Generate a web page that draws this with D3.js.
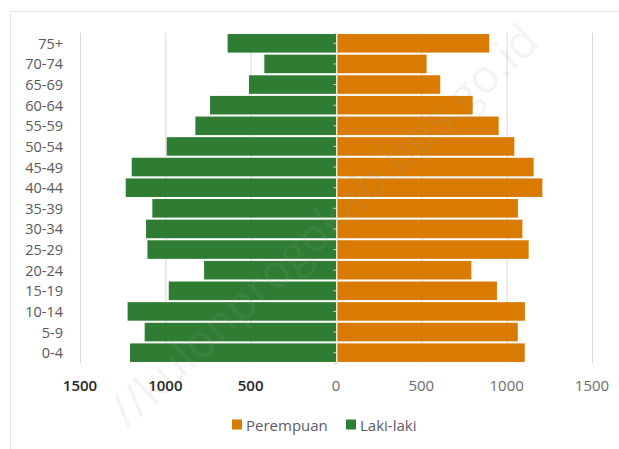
<!DOCTYPE html>
<html>
<head>
<meta charset="utf-8">
<script src="https://cdn.jsdelivr.net/npm/d3@7"></script>
<style>
  body { margin: 0; background: #fff; }
  svg { display: block; font-family: 'Open Sans', sans-serif; }
</style>
</head>
<body>
<div id="chart"></div>
<script>
// age groups, top to bottom
const ageGroups = ['75+', '70-74', '65-69', '60-64', '55-59', '50-54', '45-49', '40-44',
  '35-39', '30-34', '25-29', '20-24', '15-19', '10-14', '5-9', '0-4'];
const lakiLaki = [635, 420, 510, 738, 824, 992, 1197, 1232, 1076, 1113, 1105, 773, 980, 1221, 1121, 1207];
const perempuan = [898, 531, 611, 801, 953, 1045, 1158, 1209, 1066, 1092, 1129, 793, 943, 1107, 1065, 1106];
const tickValues = [-1500, -1000, -500, 0, 500, 1000, 1500];

const width = 619;
const height = 449;
const green = '#2e7d32';
const orange = '#d97b00';

const svg = d3.select('#chart')
  .append('svg')
    .attr('width', width)
    .attr('height', height);

// frame edges
svg.append('path')
  .attr('d', 'M10.5,449 V11.5 H619')
  .attr('fill', 'none')
  .attr('stroke', '#e3e3e3');

const x = d3.scaleLinear().domain([-1500, 1500]).range([80, 592]);
const y = d3.scaleBand().domain(ageGroups).range([33, 363]).paddingInner(0.1).paddingOuter(0.05);

// gridlines
svg.append('g')
  .selectAll('line')
  .data(tickValues.filter(d => d !== 0))
  .enter()
  .append('line')
    .attr('x1', d => x(d) + 0.5)
    .attr('x2', d => x(d) + 0.5)
    .attr('y1', 33)
    .attr('y2', 363)
    .attr('stroke', '#d9d9d9');

// bars
svg.append('g')
  .selectAll('rect')
  .data(ageGroups.map((g, i) => ({ g, v: lakiLaki[i] })))
  .enter()
  .append('rect')
    .attr('x', d => x(-d.v))
    .attr('width', d => x(0) - x(-d.v))
    .attr('y', d => y(d.g))
    .attr('height', y.bandwidth())
    .attr('fill', green);

svg.append('g')
  .selectAll('rect')
  .data(ageGroups.map((g, i) => ({ g, v: perempuan[i] })))
  .enter()
  .append('rect')
    .attr('x', x(0) + 1)
    .attr('width', d => x(d.v) - x(0) - 1)
    .attr('y', d => y(d.g))
    .attr('height', y.bandwidth())
    .attr('fill', orange);

// axis at zero with small ticks
const yAxis = svg.append('g')
  .attr('transform', `translate(${x(0) + 0.5},0)`)
  .call(d3.axisLeft(y).tickSize(3).tickFormat(''));
yAxis.select('.domain').attr('stroke', '#e8d9a8');
yAxis.selectAll('.tick line').attr('stroke', '#d9d9d9');

// category labels
svg.append('g')
  .selectAll('text')
  .data(ageGroups)
  .enter()
  .append('text')
    .attr('x', 63)
    .attr('y', d => y(d) + y.bandwidth() / 2 + 5.5)
    .attr('text-anchor', 'end')
    .attr('font-size', '14.5px')
    .attr('fill', '#595959')
    .text(d => d);

// x tick labels (absolute values)
svg.append('g')
  .selectAll('text')
  .data(tickValues)
  .enter()
  .append('text')
    .attr('x', d => x(d))
    .attr('y', 390.5)
    .attr('text-anchor', 'middle')
    .attr('font-size', '15px')
    .attr('font-weight', d => d < 0 ? 600 : 400)
    .attr('fill', d => d < 0 ? '#262626' : '#6b6b6b')
    .text(d => Math.abs(d));

// legend
const legendItems = [{ name: 'Perempuan', color: orange, x: 232 }, { name: 'Laki-laki', color: green, x: 346 }];
const legend = svg.append('g')
  .selectAll('g')
  .data(legendItems)
  .enter()
  .append('g');
legend.append('rect')
  .attr('x', d => d.x)
  .attr('y', 419.5)
  .attr('width', 10)
  .attr('height', 10)
  .attr('fill', d => d.color);
legend.append('text')
  .attr('x', d => d.x + 14)
  .attr('y', 430.5)
  .attr('font-size', '15px')
  .attr('fill', '#5d5a68')
  .text(d => d.name);

// watermark
svg.append('text')
  .attr('transform', 'translate(128,430) rotate(-43)')
  .attr('font-size', '46px')
  .attr('fill', '#a0a0a0')
  .attr('fill-opacity', 0.12)
  .text('//kulonprogokab.bps.go.id');
</script>
</body>
</html>
